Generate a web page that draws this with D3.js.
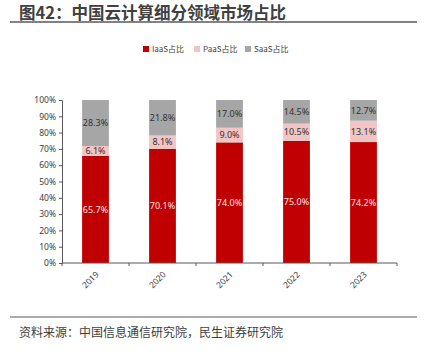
<!DOCTYPE html>
<html>
<head>
<meta charset="utf-8">
<script src="https://cdn.jsdelivr.net/npm/d3@7"></script>
<style>
  body { margin: 0; background: #fff; }
  svg { font-family: "Noto Sans CJK SC", "Noto Sans", sans-serif; }
</style>
</head>
<body>
<div class="chart"></div>
<script>
const years = ["2019", "2020", "2021", "2022", "2023"]
const iaas = [65.7, 70.1, 74.0, 75.0, 74.2]
const paas = [6.1, 8.1, 9.0, 10.5, 13.1]
const saas = [28.3, 21.8, 17.0, 14.5, 12.7]
const seriesNames = ["IaaS占比", "PaaS占比", "SaaS占比"]
const yTicks = [0, 10, 20, 30, 40, 50, 60, 70, 80, 90, 100]

const width = 425
const height = 351
const margin = { top: 100, right: 28, bottom: 88, left: 62 }

const colors = ["#C00000", "#F2C4C4", "#A6A6A6"]
const labelColors = ["#FBE3E3", "#333333", "#333333"]

const svg = d3.select(".chart")
    .append("svg")
    .attr("width", width)
    .attr("height", height)

// title + rules
svg.append("text")
    .attr("x", 19)
    .attr("y", 19)
    .attr("font-size", 16.5)
    .attr("font-weight", "bold")
    .attr("fill", "#404040")
    .text("图42：中国云计算细分领域市场占比")

svg.append("line")
    .attr("x1", 10).attr("x2", 417)
    .attr("y1", 22).attr("y2", 22)
    .attr("stroke", "#595959")
    .attr("stroke-width", 1.5)

svg.append("line")
    .attr("x1", 10).attr("x2", 417)
    .attr("y1", 317).attr("y2", 317)
    .attr("stroke", "#595959")
    .attr("stroke-width", 1.2)

svg.append("text")
    .attr("x", 19)
    .attr("y", 337)
    .attr("font-size", 12)
    .attr("fill", "#404040")
    .text("资料来源：中国信息通信研究院，民生证券研究院")

// data rows for stacking
const rows = years.map((y, i) => ({ year: y, IaaS: iaas[i], PaaS: paas[i], SaaS: saas[i] }))
const keys = ["IaaS", "PaaS", "SaaS"]
const stacked = d3.stack().keys(keys)(rows)

const x = d3.scaleBand()
    .domain(years)
    .range([margin.left, width - margin.right])
    .paddingInner(0.6)
    .paddingOuter(0.3)

const y = d3.scaleLinear()
    .domain([0, 100])
    .range([height - margin.bottom, margin.top])

const plot = svg.append("g")

plot.selectAll(".layer")
    .data(stacked)
    .join("g")
    .attr("class", "layer")
    .attr("fill", (d, i) => colors[i])
    .selectAll("rect")
    .data(d => d)
    .join("rect")
    .attr("x", d => x(d.data.year))
    .attr("width", x.bandwidth())
    .attr("y", d => y(Math.min(d[1], 100)))
    .attr("height", d => y(d[0]) - y(Math.min(d[1], 100)))

// value labels
stacked.forEach((layer, i) => {
    plot.selectAll(".lbl" + i)
        .data(layer)
        .join("text")
        .attr("class", "lbl" + i)
        .attr("x", d => x(d.data.year) + x.bandwidth() / 2)
        .attr("y", d => (y(d[0]) + y(Math.min(d[1], 100))) / 2)
        .attr("dy", "0.35em")
        .attr("text-anchor", "middle")
        .attr("font-size", 9)
        .attr("font-family", "Noto Sans, sans-serif")
        .attr("fill", labelColors[i])
        .text(d => d.data[layer.key].toFixed(1) + "%")
})

// y axis
const yAxis = svg.append("g")
    .attr("transform", `translate(${margin.left},0)`)
    .call(d3.axisLeft(y).tickValues(yTicks).tickSize(3).tickFormat(d => d + "%"))
yAxis.select(".domain").attr("stroke", "#595959")
yAxis.selectAll(".tick line").attr("stroke", "#595959")
yAxis.selectAll("text")
    .attr("font-size", 8.5)
    .attr("font-family", "Noto Sans, sans-serif")
    .attr("fill", "#404040")
    .attr("x", -6)

// x axis with ticks at band boundaries
const xAxisG = svg.append("g")
    .attr("transform", `translate(0,${height - margin.bottom})`)
xAxisG.append("line")
    .attr("x1", margin.left).attr("x2", width - margin.right)
    .attr("stroke", "#595959")
const step = (width - margin.right - margin.left) / years.length
xAxisG.selectAll(".xt")
    .data(d3.range(years.length + 1))
    .join("line")
    .attr("class", "xt")
    .attr("x1", d => margin.left + d * step)
    .attr("x2", d => margin.left + d * step)
    .attr("y1", 0).attr("y2", 3)
    .attr("stroke", "#595959")
xAxisG.selectAll(".xl")
    .data(years)
    .join("text")
    .attr("class", "xl")
    .attr("transform", d => `translate(${x(d) + x.bandwidth() / 2 + 4},${12}) rotate(-45)`)
    .attr("text-anchor", "end")
    .attr("font-size", 8.5)
    .attr("font-family", "Noto Sans, sans-serif")
    .attr("fill", "#404040")
    .text(d => d)

// legend
const legend = svg.append("g").attr("transform", "translate(143,49)")
const legendX = [0, 51, 102]
seriesNames.forEach((name, i) => {
    legend.append("rect")
        .attr("x", legendX[i]).attr("y", -3)
        .attr("width", 6).attr("height", 6)
        .attr("fill", colors[i])
    legend.append("text")
        .attr("x", legendX[i] + 9)
        .attr("y", 0)
        .attr("dy", "0.35em")
        .attr("font-size", 8)
        .attr("fill", "#404040")
        .text(name)
})
</script>
</body>
</html>
